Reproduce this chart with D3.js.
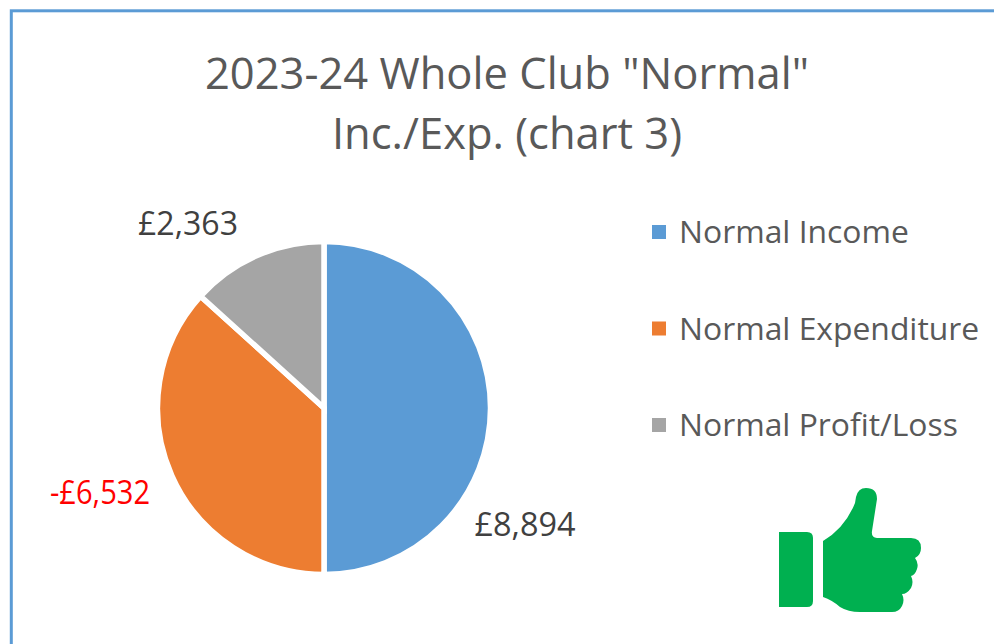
<!DOCTYPE html>
<html><head><meta charset="utf-8">
<script src="https://cdn.jsdelivr.net/npm/d3@7"></script>
<style>html,body{margin:0;padding:0;background:#fff;overflow:hidden}svg{display:block}text{font-family:"Open Sans","Noto Sans",sans-serif}</style>
</head><body><svg id="c" width="994" height="644"></svg>
<script>
const titleLines = ['2023-24 Whole Club "Normal"', 'Inc./Exp. (chart 3)'];
const categories = ['Normal Income', 'Normal Expenditure', 'Normal Profit/Loss'];
const values = [8894, 6532, 2363];
const valueLabels = ['£8,894', '-£6,532', '£2,363'];
const colors = ['#5B9BD5', '#ED7D31', '#A5A5A5'];
const labelColors = ['#404040', '#FF0000', '#404040'];
const svg = d3.select('#c');
svg.append('rect').attr('x',11.3).attr('y',10.8).attr('width',1000).attr('height',700).attr('fill','#fff').attr('stroke','#5B9BD5').attr('stroke-width',3);
svg.append('g').selectAll('text').data(titleLines).join('text')
  .attr('x',507).attr('y',(d,i)=>[89,149][i]).attr('text-anchor','middle').attr('font-size',43.5).attr('fill','#595959').text(d=>d);
const cx=324, cy=408, r=166.5;
const pie=d3.pie().sort(null)(values);
const arc=d3.arc().innerRadius(0).outerRadius(r);
svg.append('g').attr('transform',`translate(${cx},${cy})`).selectAll('path').data(pie).join('path')
  .attr('d',arc).attr('fill',(d,i)=>colors[i]).attr('stroke','#fff').attr('stroke-width',5.5);
const labelPos=[[525,525],[100,493],[188,224]];
const labelWidths=[101,100,100];
svg.append('g').selectAll('text').data(valueLabels).join('text')
  .attr('x',(d,i)=>labelPos[i][0]).attr('y',(d,i)=>labelPos[i][1]+11).attr('text-anchor','middle')
  .attr('font-size',32).attr('textLength',(d,i)=>labelWidths[i]).attr('lengthAdjust','spacingAndGlyphs')
  .attr('fill',(d,i)=>labelColors[i]).text(d=>d);
const ly=d3.scalePoint().domain(categories).range([232,425]);
const leg=svg.append('g').selectAll('g').data(categories).join('g').attr('transform',d=>`translate(652,${ly(d)})`);
leg.append('rect').attr('x',0).attr('y',-7).attr('width',14).attr('height',14).attr('fill',(d,i)=>colors[i]);
leg.append('text').attr('x',27).attr('y',11).attr('font-size',31.85).attr('fill','#595959').text(d=>d);
const g=svg.append('g').attr('fill','#00B050');
g.append('path').attr('d','M779 532 H807 Q813 532 813 538 V601 Q813 607 807 607 H779 Z');
g.append('path').attr('d','M823 541 Q845 528 855 503 L856 497 Q858 488 866 488 Q877 488 877 499 L872 531 Q871 538 877 538 H911 Q921 538 921 548 Q921 555 915 558 Q919 563 917 569 Q915 575 911 576 Q914 582 911 588 Q907 594 902 594 Q905 600 902 606 Q899 612 892 612 H860 Q848 612 840 607 Q832 600 823 597 Z');
</script></body></html>
